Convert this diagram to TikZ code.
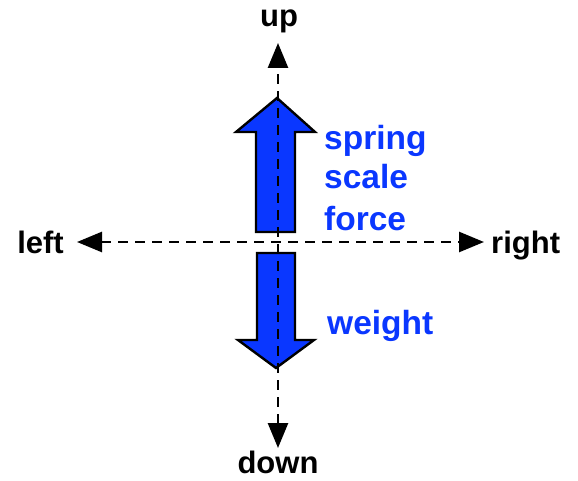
\documentclass[tikz,border=0pt]{standalone}
\usepackage{fontspec}
\setmainfont{Liberation Sans}
\usetikzlibrary{arrows.meta}
\definecolor{forceblue}{RGB}{10,55,255}
\tikzset{
  axisline/.style={line width=2.6pt, dash pattern=on 10pt off 7pt,
    {Triangle[length=25pt,width=20pt]}-{Triangle[length=25pt,width=20pt]}},
  forcearrow/.style={fill=forceblue, draw=black, line width=2.4pt, line join=miter},
  dirlabel/.style={inner sep=0pt, font=\bfseries\fontsize{31}{36}\selectfont, text=black},
  forcelabel/.style={inner sep=0pt, anchor=base west, font=\bfseries\fontsize{33.5}{38}\selectfont, text=forceblue},
}
\begin{document}
\begin{tikzpicture}[x=1pt,y=-1pt]
\useasboundingbox (0,0) rectangle (578,481);
% blue force arrows
\draw[forcearrow] (256,232) -- (256,132) -- (236,132) -- (277,98) -- (315,132) -- (295,132) -- (295,232) -- cycle;
\draw[forcearrow] (257,253) -- (295,253) -- (295,340) -- (314,340) -- (276,368) -- (238,340) -- (257,340) -- cycle;
% axes
\coordinate (L) at (77,242);
\coordinate (R) at (484,242);
\coordinate (T) at (278,43);
\coordinate (B) at (278,448);
\draw[axisline] (L) -- (R);
\draw[axisline] (B) -- (T);
% labels
\node[dirlabel, anchor=base] (up) at (279,27) {up};
\node[dirlabel, anchor=base] (down) at (278,473) {down};
\node[dirlabel, anchor=base east] (left) at (64,253) {left};
\node[dirlabel, anchor=base west] (right) at (491,253) {right};
\node[forcelabel] (spring) at (324,150) {spring};
\node[forcelabel] (scale) at (324,189) {scale};
\node[forcelabel] (force) at (324,230) {force};
\node[forcelabel] (weight) at (327,334) {weight};
\end{tikzpicture}
\end{document}
